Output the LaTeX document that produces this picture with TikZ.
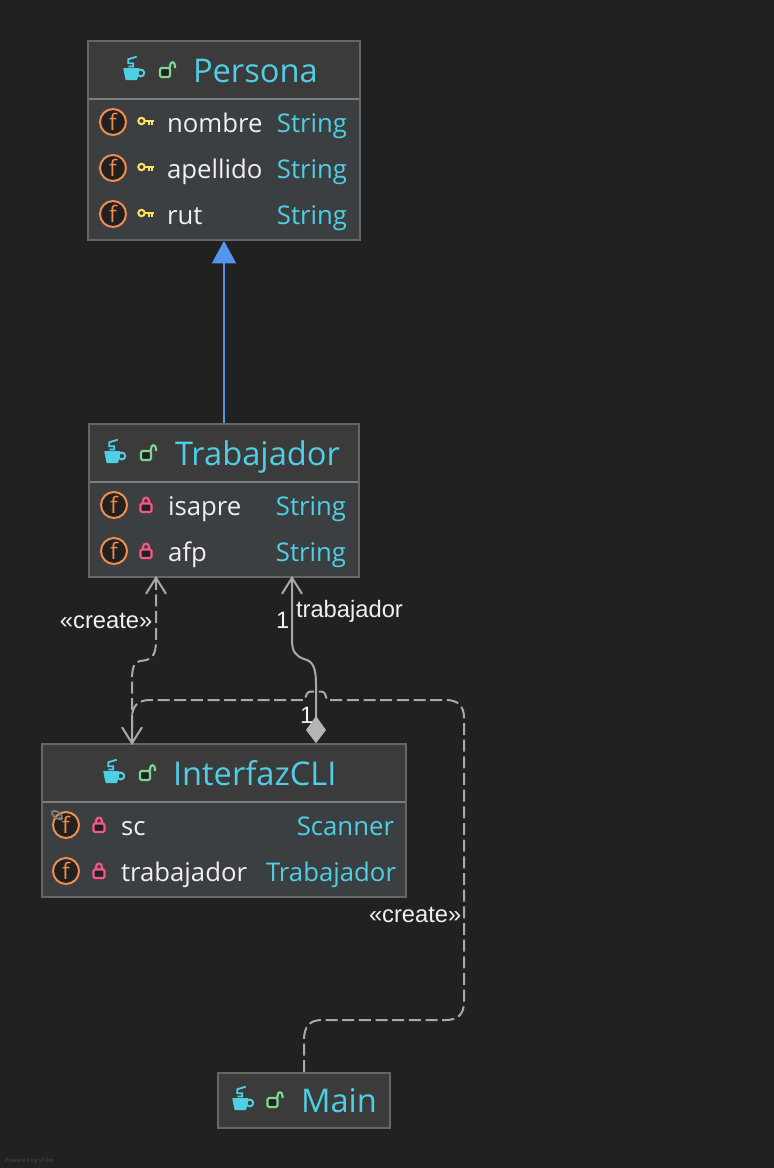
\documentclass[tikz,border=0pt]{standalone}
\usepackage{fontspec}
\setmainfont{Open Sans}
\newfontfamily\labelfont{Liberation Sans}
\usetikzlibrary{arrows.meta,calc}
\definecolor{bgc}{HTML}{212121}
\definecolor{hdrc}{HTML}{3B3B3B}
\definecolor{bodyc}{HTML}{3C3F41}
\definecolor{borderc}{HTML}{666666}
\definecolor{sepc}{HTML}{7F7F7F}
\definecolor{cyanc}{HTML}{4FCFE4}
\definecolor{whitec}{HTML}{EFEFF5}
\definecolor{greenc}{HTML}{7BD88F}
\definecolor{orangec}{HTML}{F08C4E}
\definecolor{yellowc}{HTML}{FFE35C}
\definecolor{pinkc}{HTML}{F9558B}
\definecolor{bluec}{HTML}{5394EC}
\definecolor{edgec}{HTML}{A9A9A9}
\definecolor{diamc}{HTML}{B5B5B5}
\tikzset{
  x=0.75pt,y=-0.75pt,
  boxframe/.style={draw=borderc,line width=1.2pt,inner sep=0pt,fill=none},
  txt/.style={inner sep=0pt,outer sep=0pt},
  titletxt/.style={txt,anchor=base west,text=cyanc,font=\fontsize{24.5pt}{28pt}\selectfont},
  nametxt/.style={txt,anchor=base west,text=whitec,font=\fontsize{19.3pt}{23pt}\selectfont},
  typetxt/.style={txt,anchor=base east,text=cyanc,font=\fontsize{19.3pt}{23pt}\selectfont},
  edgetxt/.style={txt,anchor=base west,text=whitec,font=\labelfont\fontsize{17.8pt}{20pt}\selectfont},
  conn/.style={draw=edgec,line width=1.5pt},
  dashconn/.style={conn,dash pattern=on 9pt off 3.5pt},
  pics/cup/.style={code={
    \draw[cyanc,line width=1.5pt] (6.8,5) circle (3.4);
    \fill[cyanc] (-10.7,0) -- (5.3,0) .. controls (5,5) and (4,9) .. (2.9,12) -- (-8.3,12) .. controls (-9,9) and (-10,5) .. (-10.7,0) -- cycle;
    \draw[cyanc,line width=1.4pt] (2.7,-11.3) -- (-5.7,-8.7) -- (-5.7,-4.7) -- (-0.7,-4.7) -- (-0.7,-1.5) -- (-5.7,-1.5);
  }},
  pics/openlock/.style={code={
    \draw[greenc,line width=1.6pt,rounded corners=1pt,fill=bgc] (-5,0) rectangle (5,9);
    \draw[greenc,line width=1.6pt] (5,0) -- (5,-2) .. controls (5,-7) and (10,-7) .. (10,-2) -- (10,0);
  }},
  pics/closedlock/.style={code={
    \draw[pinkc,line width=1.6pt,rounded corners=1pt,fill=bgc] (-5.5,-2.5) rectangle (5.5,6);
    \draw[pinkc,line width=1.6pt] (-3,-2.5) -- (-3,-5) .. controls (-3,-9.5) and (3,-9.5) .. (3,-5) -- (3,-2.5);
  }},
  pics/keyicon/.style={code={
    \draw[yellowc,line width=1.5pt] (-4.5,0) circle (3.2);
    \draw[yellowc,line width=1.5pt] (-1.3,0) -- (7.5,0) (2.5,0) -- (2.5,3.5) (6,0) -- (6,3.5);
  }},
  pics/vheadup/.style={code={\draw[conn] (-10,16) -- (0,0) -- (10,16);}},
  pics/vheaddown/.style={code={\draw[conn] (-10,-16) -- (0,0) -- (10,-16);}},
}
% #1 name, #2..#5 x1 y1 x2 y2, #6 separator y
\newcommand{\umlbox}[6]{%
  \fill[bodyc] (#2,#3) rectangle (#4,#5);
  \fill[hdrc] (#2,#3) rectangle (#4,#6);
  \draw[sepc,line width=1.5pt] (#2,#6) -- (#4,#6);
  \node[boxframe,minimum width={(#4-#2)*0.75pt},minimum height={(#5-#3)*0.75pt}] (#1) at ({(#2+#4)/2},{(#3+#5)/2}) {};
}
% #1 name, #2 centre x, #3 centre y
\newcommand{\ficon}[3]{%
  \node[draw=orangec,line width=1.5pt,fill=bgc,circle,minimum size=19.5pt,inner sep=0pt,text=orangec,font=\fontsize{17pt}{17pt}\selectfont] (#1) at (#2,#3) {f};
}
\begin{document}
\begin{tikzpicture}
\useasboundingbox (0,0) rectangle (774,1168);
\fill[bgc] (0,0) rectangle (774,1168);

% boxes
\umlbox{persona}{88}{41}{360}{240}{99}
\umlbox{trab}{89}{424}{359}{577}{482}
\umlbox{cli}{42}{744}{406}{897}{802}
\umlbox{mainb}{218}{1073}{390}{1128}{1128}

% Persona
\pic at (134,68) {cup};
\pic at (165,68) {openlock};
\node[titletxt] (t1) at (193,82) {Persona};
\ficon{f1}{113}{122}
\ficon{f2}{113}{168}
\ficon{f3}{113}{214}
\pic at (146,121) {keyicon};
\pic at (146,167) {keyicon};
\pic at (146,213) {keyicon};
\node[nametxt] (n1) at (167,132) {nombre};
\node[nametxt] (n2) at (167,178) {apellido};
\node[nametxt] (n3) at (167,224) {rut};
\node[typetxt] (s1) at (347,132) {String};
\node[typetxt] (s2) at (347,178) {String};
\node[typetxt] (s3) at (347,224) {String};

% Trabajador
\pic at (115,451) {cup};
\pic at (146,451) {openlock};
\node[titletxt] (t2) at (175,465) {Trabajador};
\ficon{f4}{114}{505}
\ficon{f5}{114}{551}
\pic at (146,506) {closedlock};
\pic at (146,552) {closedlock};
\node[nametxt] (n4) at (168,515) {isapre};
\node[nametxt] (n5) at (168,561) {afp};
\node[typetxt] (s4) at (346,515) {String};
\node[typetxt] (s5) at (346,561) {String};

% InterfazCLI
\pic at (114,771) {cup};
\pic at (145,771) {openlock};
\node[titletxt] (t3) at (173,785) {InterfazCLI};
\ficon{f6}{66}{825}
\ficon{f7}{66}{871}
\draw[line width=1.2pt,draw=sepc] (62,820) -- (59,817);
\draw[line width=1.3pt,draw=sepc,rotate around={-35:(57,815)}] (57,815) ellipse (6 and 3);
\pic at (99,826) {closedlock};
\pic at (99,872) {closedlock};
\node[nametxt] (n6) at (121,835) {sc};
\node[nametxt] (n7) at (121,881) {trabajador};
\node[typetxt] (s6) at (394,835) {Scanner};
\node[typetxt] (s7) at (396,881) {Trabajador};

% Main
\pic at (243,1098) {cup};
\pic at (272.5,1098) {openlock};
\node[titletxt] (t4) at (301,1112) {Main};

% connectors
\draw[draw=bluec,line width=1.5pt,-{Triangle[length=17pt,width=18pt,color=bluec]}] (trab.north) -- (persona.south);

\coordinate (createtop) at ($(trab.south)+(-68,0)$);
\coordinate (createbot) at ($(cli.north)+(-92,0)$);
\coordinate (ownertop) at ($(trab.south)+(68,0)$);
\coordinate (ownerbot) at ($(cli.north)+(92,0)$);
\coordinate (mainout) at ($(mainb.north)+(0,0)$);

\draw[dashconn] (createtop) -- (156,640)
  .. controls (156,656) and (152,660) .. (140,661)
  .. controls (134,662) and (132,668) .. (132,680) -- (132,735);
\draw[conn] (132,715) -- (createbot);
\pic at (createtop) {vheadup};
\pic at (createbot) {vheaddown};

\draw[dashconn] (mainout) -- (304,1040)
  .. controls (304,1026) and (310,1020) .. (322,1020) -- (446,1020)
  .. controls (458,1020) and (464,1014) .. (464,1002) -- (464,718)
  .. controls (464,706) and (458,700) .. (446,700) -- (327,700)
  .. controls (325.5,695) and (325,691.5) .. (321,691.5) -- (311,691.5)
  .. controls (307,691.5) and (306,695) .. (305,700) -- (150,700)
  .. controls (138,700) and (132,706) .. (132,718) -- (createbot);

\draw[conn] (ownertop) -- (292,640)
  .. controls (292,652) and (296,656) .. (304,659)
  .. controls (313,661) and (316,668) .. (316,684) -- (316,720);
\pic at (ownertop) {vheadup};
\fill[fill=diamc] (316,716) -- (326,730) -- (ownerbot) -- (306,730) -- cycle;

% labels
\node[edgetxt] (c1) at (60,628) {«create»};
\node[edgetxt] (c2) at (369,922) {«create»};
\node[edgetxt] (l1) at (296,617) {trabajador};
\node[edgetxt] (l2) at (276,628) {1};
\node[edgetxt] (l3) at (300,723) {1};
\node[txt,anchor=base west,text opacity=0.18,font=\fontsize{4.5pt}{5pt}\selectfont,text=white] (yf) at (5,1162) {Powered by yFiles};
\end{tikzpicture}
\end{document}
